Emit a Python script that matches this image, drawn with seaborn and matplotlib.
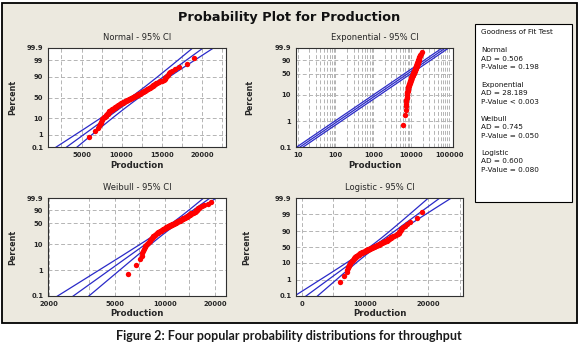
import math
import numpy as np
import pandas as pd
import matplotlib
matplotlib.use("Agg")
import matplotlib.pyplot as plt
from matplotlib.patches import Rectangle
from matplotlib.ticker import FixedLocator, FixedFormatter, NullLocator, NullFormatter
import seaborn as sns

# ---------------- data ----------------
production = [5980, 6720, 7090, 7230, 7310, 7380, 7460, 7530, 7610, 7690,
              7810, 7880, 7990, 8090, 8160, 8240, 8310, 8370, 8420, 8480,
              8560, 8660, 8740, 8860, 8940, 9030, 9110, 9190, 9290, 9410,
              9480, 9590, 9660, 9740, 9850, 9930, 10010, 10110, 10190, 10290,
              10410, 10480, 10590, 10710, 10790, 10880, 11010, 11090, 11210, 11290,
              11410, 11480, 11610, 11690, 11810, 11890, 11990, 12080, 12160, 12240,
              12360, 12430, 12540, 12610, 12690, 12810, 12890, 13010, 13090, 13210,
              13290, 13410, 13490, 13610, 13690, 13790, 13860, 13940, 14060, 14110,
              14190, 14310, 14440, 14660, 14840, 15060, 15240, 15340, 15390, 15460,
              15540, 15660, 15740, 15910, 16040, 16310, 16590, 17120, 18180, 19020]

normal_mu, normal_sigma = 11650, 2750
exp_theta = 11600
weibull_shape, weibull_scale = 4.66, 12340
logistic_loc, logistic_scale = 11265, 1532

pct_ticks = [0.1, 1, 10, 50, 90, 99, 99.9]
pct_labels = ["0.1", "1", "10", "50", "90", "99", "99.9"]
ev_ticks = [0.1, 1, 10, 50, 90, 99.9]
ev_labels = ["0.1", "1", "10", "50", "90", "99.9"]

normal_xticks = [5000, 10000, 15000, 20000]
normal_xgrid = [2500, 7500, 12500, 17500, 22500]
exp_xticks = [10, 100, 1000, 10000, 100000]
weibull_xticks = [2000, 5000, 10000, 20000]
weibull_xgrid = [3500, 7000, 14000]
logistic_xticks = [0, 10000, 20000]
logistic_xgrid = [5000, 15000, 25000]

titles = ["Normal - 95% CI", "Exponential - 95% CI", "Weibull - 95% CI", "Logistic - 95% CI"]
gof_title = "Goodness of Fit Test"
gof_groups = [["Normal", "AD = 0.506", "P-Value = 0.198"],
              ["Exponential", "AD = 28.189", "P-Value < 0.003"],
              ["Weibull", "AD = 0.745", "P-Value = 0.050"],
              ["Logistic", "AD = 0.600", "P-Value = 0.080"]]

# ---------------- helpers ----------------
_erf = np.vectorize(math.erf)


def probit(p):
    p = np.atleast_1d(np.clip(np.asarray(p, dtype=float), 1e-10, 1 - 1e-10))
    a = [-3.969683028665376e+01, 2.209460984245205e+02, -2.759285104469687e+02,
         1.383577518672690e+02, -3.066479806614716e+01, 2.506628277459239e+00]
    b = [-5.447609879822406e+01, 1.615858368580409e+02, -1.556989798598866e+02,
         6.680131188771972e+01, -1.328068155288572e+01]
    c = [-7.784894002430293e-03, -3.223964580411365e-01, -2.400758277161838e+00,
         -2.549732539343734e+00, 4.374664141464968e+00, 2.938163982698783e+00]
    d = [7.784695709041462e-03, 3.224671290700398e-01, 2.445134137142996e+00,
         3.754408661907416e+00]
    plow = 0.02425
    z = np.empty_like(p)
    lo = p < plow
    hi = p > 1 - plow
    mid = ~(lo | hi)
    q = np.sqrt(-2 * np.log(p[lo]))
    z[lo] = (((((c[0]*q+c[1])*q+c[2])*q+c[3])*q+c[4])*q+c[5]) / ((((d[0]*q+d[1])*q+d[2])*q+d[3])*q+1)
    q = np.sqrt(-2 * np.log(1 - p[hi]))
    z[hi] = -(((((c[0]*q+c[1])*q+c[2])*q+c[3])*q+c[4])*q+c[5]) / ((((d[0]*q+d[1])*q+d[2])*q+d[3])*q+1)
    q = p[mid] - 0.5
    r = q * q
    z[mid] = (((((a[0]*r+a[1])*r+a[2])*r+a[3])*r+a[4])*r+a[5])*q / (((((b[0]*r+b[1])*r+b[2])*r+b[3])*r+b[4])*r+1)
    return z


def norm_fwd(y):
    return probit(np.asarray(y, dtype=float) / 100.0)


def norm_inv(z):
    z = np.asarray(z, dtype=float)
    return 100.0 * 0.5 * (1 + _erf(z / math.sqrt(2)))


def ev_fwd(y):
    p = np.clip(np.asarray(y, dtype=float) / 100.0, 1e-10, 1 - 1e-10)
    return np.log(-np.log(1 - p))


def ev_inv(w):
    w = np.clip(np.asarray(w, dtype=float), -30, 5)
    return 100.0 * (1 - np.exp(-np.exp(w)))


def logit_fwd(y):
    p = np.clip(np.asarray(y, dtype=float) / 100.0, 1e-10, 1 - 1e-10)
    return np.log(p / (1 - p))


def logit_inv(w):
    w = np.asarray(w, dtype=float)
    return 100.0 / (1 + np.exp(-w))


# ---------------- style ----------------
sns.set_theme(style="white")
plt.rcParams['font.family'] = ['DejaVu Sans']
BLUE = '#2a2ac8'
RED = '#ff0000'
GRID = '#b4b4b4'
BEIGE = '#ece9df'

W, H = 580, 351
fig = plt.figure(figsize=(W / 100, H / 100), dpi=100)
fig.patch.set_facecolor('white')
fig.patches.append(Rectangle((2 / W, 1 - 323 / H), 575 / W, 320 / H, transform=fig.transFigure,
                             facecolor=BEIGE, edgecolor='black', linewidth=1.3, zorder=-10))


def rect(x0, y0, x1, y1):
    return [x0 / W, 1 - y1 / H, (x1 - x0) / W, (y1 - y0) / H]


n = len(production)
data = pd.DataFrame({"Production": production})
data["Percent"] = 100.0 * (np.arange(1, n + 1) - 0.3) / (n + 0.4)
zc = 1.959964


def style_axes(ax, title, yticks, ylabels, ylab_x):
    ax.set_facecolor('white')
    for s in ax.spines.values():
        s.set_color('#303030')
        s.set_linewidth(0.8)
    ax.set_ylim(0.1, 99.9)
    ax.yaxis.set_major_locator(FixedLocator(yticks))
    ax.yaxis.set_major_formatter(FixedFormatter(ylabels))
    ax.yaxis.set_minor_locator(NullLocator())
    ax.xaxis.set_minor_formatter(NullFormatter())
    ax.yaxis.set_minor_formatter(NullFormatter())
    ax.tick_params(axis='both', which='major', direction='out', length=2.2, width=0.6,
                   color='#303030', labelsize=4.9, pad=1.2)
    ax.tick_params(axis='both', which='minor', length=0)
    for lab in ax.get_xticklabels() + ax.get_yticklabels():
        lab.set_fontweight('bold')
    ax.grid(True, which='both', color=GRID, linestyle=(0, (4, 2.5)), linewidth=0.7)
    ax.set_axisbelow(True)
    ax.set_title(title, fontsize=6.0, pad=6.0)
    ax.set_xlabel("Production", fontsize=6.2, fontweight='bold', labelpad=2)
    ax.set_ylabel("Percent", fontsize=5.8, fontweight='bold')
    ax.yaxis.set_label_coords(ylab_x, 0.5)


def draw(ax, xs_list):
    for xs, pp in xs_list:
        sns.lineplot(x=xs, y=pp, sort=False, estimator=None, ax=ax, color=BLUE, linewidth=0.9)
    sns.scatterplot(data=data, x="Production", y="Percent", ax=ax, color=RED, s=15,
                    linewidth=0, zorder=4)


# ---------- Normal ----------
ax1 = fig.add_axes(rect(48, 48, 226, 147))
ax1.set_yscale('function', functions=(norm_fwd, norm_inv))
zz = np.linspace(-3.4, 3.4, 200)
pp = norm_inv(zz)
xc = normal_mu + normal_sigma * zz
se = normal_sigma * np.sqrt(1 / n + zz ** 2 / (2 * n))
draw(ax1, [(xc, pp), (xc - zc * se, pp), (xc + zc * se, pp)])
ax1.set_xlim(825, 23000)
ax1.xaxis.set_major_locator(FixedLocator(normal_xticks))
ax1.xaxis.set_minor_locator(FixedLocator(normal_xgrid))
ax1.xaxis.set_major_formatter(FixedFormatter([str(v) for v in normal_xticks]))
style_axes(ax1, titles[0], pct_ticks, pct_labels, -0.175)

# ---------- Exponential ----------
ax2 = fig.add_axes(rect(296, 48, 453, 147))
ax2.set_xscale('log')
ax2.set_yscale('function', functions=(ev_fwd, ev_inv))
ww = np.linspace(-7.5, 2.3, 200)
pp = ev_inv(ww)
xc = exp_theta * np.exp(ww)
f = np.exp(zc / np.sqrt(n))
draw(ax2, [(xc, pp), (xc / f, pp), (xc * f, pp)])
ax2.set_xlim(9.1, 127000)
ax2.xaxis.set_major_locator(FixedLocator(exp_xticks))
ax2.xaxis.set_major_formatter(FixedFormatter([str(v) for v in exp_xticks]))
ax2.xaxis.set_minor_locator(FixedLocator([m * 10 ** k for k in range(1, 6) for m in range(2, 10)]))
style_axes(ax2, titles[1], ev_ticks, ev_labels, -0.265)

# ---------- Weibull ----------
ax3 = fig.add_axes(rect(48, 198, 226, 296))
ax3.set_xscale('log')
ax3.set_yscale('function', functions=(ev_fwd, ev_inv))
ww = np.linspace(-7.5, 2.3, 200)
pp = ev_inv(ww)
b = 1.0 / weibull_shape
yc = np.log(weibull_scale) + ww * b
sey = b / np.sqrt(n) * np.sqrt(1.1087 + 0.6079 * ww ** 2 + 2 * 0.2570 * ww)
draw(ax3, [(np.exp(yc), pp), (np.exp(yc - zc * sey), pp), (np.exp(yc + zc * sey), pp)])
ax3.set_xlim(1975, 23300)
ax3.xaxis.set_major_locator(FixedLocator(weibull_xticks))
ax3.xaxis.set_major_formatter(FixedFormatter([str(v) for v in weibull_xticks]))
ax3.xaxis.set_minor_locator(FixedLocator(weibull_xgrid))
style_axes(ax3, titles[2], ev_ticks, ev_labels, -0.175)

# ---------- Logistic ----------
ax4 = fig.add_axes(rect(296, 198, 463, 296))
ax4.set_yscale('function', functions=(logit_fwd, logit_inv))
ww = np.linspace(-7.5, 7.5, 200)
pp = logit_inv(ww)
xc = logistic_loc + logistic_scale * ww
se = logistic_scale / np.sqrt(n) * np.sqrt(3 + 0.6993 * ww ** 2)
draw(ax4, [(xc, pp), (xc - zc * se, pp), (xc + zc * se, pp)])
ax4.set_xlim(-900, 25500)
ax4.xaxis.set_major_locator(FixedLocator(logistic_xticks))
ax4.xaxis.set_major_formatter(FixedFormatter([str(v) for v in logistic_xticks]))
ax4.xaxis.set_minor_locator(FixedLocator(logistic_xgrid))
style_axes(ax4, titles[3], pct_ticks, pct_labels, -0.265)

# ---------- titles, legend box, caption ----------
fig.text(289 / W, 1 - 17 / H, "Probability Plot for Production", ha='center', va='center',
         fontsize=9.3, fontweight='bold', color='#111111')

fig.patches.append(Rectangle((475 / W, 1 - 202 / H), 97 / W, 178 / H, transform=fig.transFigure,
                             facecolor='white', edgecolor='black', linewidth=0.8, zorder=1))
GOF_FS = 5.2
fig.text(481 / W, 1 - 31.7 / H, gof_title, ha='left', va='center', fontsize=GOF_FS, color='#111111')
group_y0 = [50.5, 84.8, 118.9, 153.0]
line_step = 8.4
for y0, group in zip(group_y0, gof_groups):
    for k, txt in enumerate(group):
        fig.text(481 / W, 1 - (y0 + k * line_step) / H, txt, ha='left', va='center',
                 fontsize=GOF_FS, color='#111111')

fig.text(289 / W, 1 - 336 / H, "Figure 2: Four popular probability distributions for throughput",
         ha='center', va='center', fontsize=9, fontweight='bold', family=['Lato', 'DejaVu Sans'],
         color='#1a1a1a')

fig.savefig("out.png", dpi=100, facecolor=fig.get_facecolor())
